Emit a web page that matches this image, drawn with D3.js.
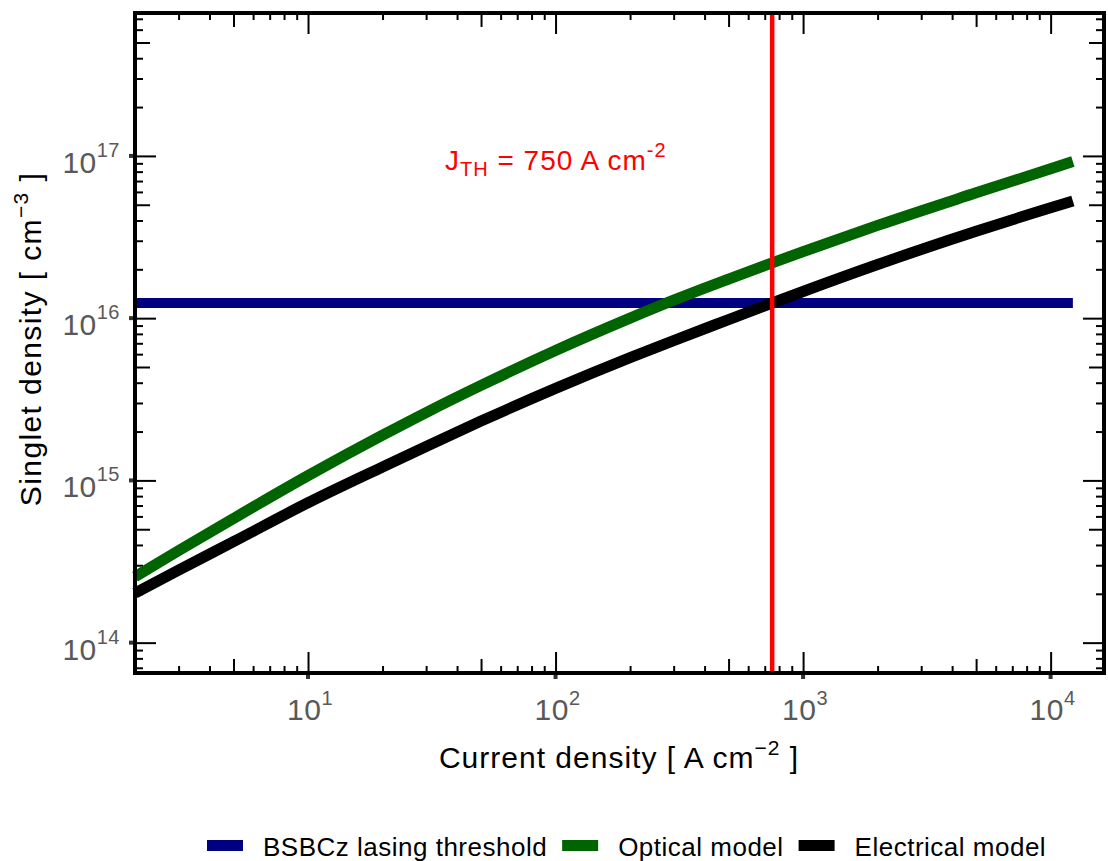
<!DOCTYPE html>
<html>
<head>
  <meta charset="utf-8">
  <style>
    body { margin: 0; background: #fff; }
    svg { font-family: "Liberation Sans", Arial, sans-serif; }
    .tick-label { fill: #595959; font-size: 30px; letter-spacing: 0.5px; }
    .title { fill: #000; font-size: 30px; letter-spacing: 1px; }
    .legend-text { fill: #000; font-size: 26px; letter-spacing: 0.5px; }
  </style>
  <script src="https://d3js.org/d3.v7.min.js"></script>
</head>
<body>
  <svg id="svg" width="1108" height="861"></svg>
  <script>
    // data
    const currentDensity = [2, 3, 5, 10, 20, 30, 50, 100, 200, 300, 500, 750, 1000, 2000, 5000, 10000, 12300];
    const opticalModel = [2.55e14, 3.69e14, 5.83e14, 1.07e15, 1.90e15, 2.62e15, 3.85e15, 6.32e15, 1.00e16, 1.29e16, 1.74e16, 2.19e16, 2.57e16, 3.73e16, 5.92e16, 8.34e16, 9.23e16];
    const electricalModel = [2.02e14, 2.80e14, 4.19e14, 7.28e14, 1.21e15, 1.62e15, 2.32e15, 3.69e15, 5.71e15, 7.28e15, 9.80e15, 1.24e16, 1.46e16, 2.14e16, 3.43e16, 4.79e16, 5.27e16];
    const lasingThreshold = 1.24e16;
    const thresholdCurrent = 750;
    const xMajorTicks = [1e1, 1e2, 1e3, 1e4];
    const yMajorTicks = [1e14, 1e15, 1e16, 1e17];
    const xExponents = ["1", "2", "3", "4"];
    const yExponents = ["14", "15", "16", "17"];
    const legendLabels = ["BSBCz lasing threshold", "Optical model", "Electrical model"];
    const legendColors = ["#000080", "#006400", "#000000"];

    const plotLeft = 135, plotRight = 1104, plotTop = 13, plotBottom = 673;
    const svg = d3.select("#svg");

    const x = d3.scaleLog().domain([2, 16430]).range([plotLeft, plotRight]);
    const y = d3.scaleLog().domain([6.5e13, 7.6e17]).range([plotBottom, plotTop]);

    // minor / medium tick sets
    function tickSets(scale, majors) {
      let all = scale.ticks().filter(v => !majors.some(m => Math.abs(m - v) / m < 1e-6));
      let lead = v => Math.round(v / Math.pow(10, Math.floor(Math.log10(v) + 1e-9)));
      return {
        medium: all.filter(v => lead(v) === 5),
        minor: all.filter(v => lead(v) !== 5)
      };
    }
    const xs = tickSets(x, xMajorTicks);
    const ys = tickSets(y, yMajorTicks);

    function drawTicks(axisFn, scale, values, len, transform) {
      let g = svg.append("g").attr("transform", transform)
        .call(axisFn(scale).tickValues(values).tickSize(-len).tickFormat(""));
      g.select(".domain").remove();
      g.selectAll(".tick line").attr("stroke", "#000").attr("stroke-width", 2);
      return g;
    }
    [[xs.minor, 7], [xs.medium, 14], [xMajorTicks, 21]].forEach(([v, l]) => {
      drawTicks(d3.axisBottom, x, v, l, `translate(0,${plotBottom})`);
      drawTicks(d3.axisTop, x, v, l, `translate(0,${plotTop})`);
    });
    [[ys.minor, 8], [ys.medium, 15], [yMajorTicks, 21]].forEach(([v, l]) => {
      drawTicks(d3.axisLeft, y, v, l, `translate(${plotLeft},0)`);
      drawTicks(d3.axisRight, y, v, l, `translate(${plotRight},0)`);
    });

    // small outer marks at the major ticks
    svg.append("g").selectAll("rect").data(xMajorTicks).join("rect")
      .attr("x", d => x(d) - 2).attr("y", plotBottom + 1).attr("width", 4).attr("height", 5).attr("fill", "#333");
    svg.append("g").selectAll("rect").data(yMajorTicks).join("rect")
      .attr("x", plotLeft - 6).attr("y", d => y(d) - 2).attr("width", 5).attr("height", 4).attr("fill", "#333");

    // series
    const line = d3.line().x(d => x(d[0])).y(d => y(d[1])).curve(d3.curveMonotoneX);
    const xEnd = currentDensity[currentDensity.length - 1];
    svg.append("path")
      .attr("d", line([[currentDensity[0], lasingThreshold], [xEnd, lasingThreshold]]))
      .attr("fill", "none").attr("stroke", legendColors[0]).attr("stroke-width", 10);
    svg.append("path")
      .attr("d", line(currentDensity.map((c, i) => [c, opticalModel[i]])))
      .attr("fill", "none").attr("stroke", legendColors[1]).attr("stroke-width", 11);
    svg.append("path")
      .attr("d", line(currentDensity.map((c, i) => [c, electricalModel[i]])))
      .attr("fill", "none").attr("stroke", legendColors[2]).attr("stroke-width", 11);

    svg.append("line")
      .attr("x1", x(thresholdCurrent)).attr("x2", x(thresholdCurrent))
      .attr("y1", plotTop).attr("y2", plotBottom)
      .attr("stroke", "#ff0000").attr("stroke-width", 4.5);

    // frame
    svg.append("rect").attr("x", plotLeft).attr("y", plotTop)
      .attr("width", plotRight - plotLeft).attr("height", plotBottom - plotTop)
      .attr("fill", "none").attr("stroke", "#000").attr("stroke-width", 4);

    // tick labels
    let xl = svg.append("g").selectAll("text").data(xMajorTicks).join("text")
      .attr("class", "tick-label").attr("text-anchor", "middle")
      .attr("x", d => x(d) + 2).attr("y", plotBottom + 47);
    xl.append("tspan").text("10");
    xl.append("tspan").attr("dy", -15).style("font-size", "20px").text((d, i) => xExponents[i]);

    let yl = svg.append("g").selectAll("text").data(yMajorTicks).join("text")
      .attr("class", "tick-label").attr("text-anchor", "end")
      .attr("x", plotLeft - 15).attr("y", d => y(d) + 17);
    yl.append("tspan").text("10");
    yl.append("tspan").attr("dy", -16).style("font-size", "20px").text((d, i) => yExponents[i]);

    // axis titles
    let xt = svg.append("text").attr("class", "title").attr("text-anchor", "middle")
      .attr("x", 619).attr("y", 768);
    xt.append("tspan").text("Current density [ A cm");
    xt.append("tspan").attr("dy", -13).style("font-size", "21px").text("\u22122");
    xt.append("tspan").attr("dy", 13).text(" ]");

    let yt = svg.append("text").attr("class", "title").attr("text-anchor", "middle")
      .style("letter-spacing", "1.4px")
      .attr("transform", "translate(41,339) rotate(-90)");
    yt.append("tspan").text("Singlet density [ cm");
    yt.append("tspan").attr("dy", -13).style("font-size", "21px").text("\u22123");
    yt.append("tspan").attr("dy", 13).text(" ]");

    // annotation
    let ann = svg.append("text").attr("fill", "#ff0000")
      .style("font-size", "28px").style("letter-spacing", "1px")
      .attr("x", 445).attr("y", 170);
    ann.append("tspan").text("J");
    ann.append("tspan").attr("dy", 6).style("font-size", "20px").text("TH");
    ann.append("tspan").attr("dy", -6).text(" = 750 A cm");
    ann.append("tspan").attr("dy", -13).style("font-size", "20px").text("-2");

    // legend
    let lg = svg.append("g").attr("transform", "translate(207,846)");
    let cursor = 0;
    legendLabels.forEach((lab, i) => {
      lg.append("rect").attr("x", cursor).attr("y", -6).attr("width", 36).attr("height", 11)
        .attr("fill", legendColors[i]);
      let t = lg.append("text").attr("class", "legend-text").attr("x", cursor + 56).attr("y", 10).text(lab);
      cursor += 56 + t.node().getComputedTextLength() + 15;
    });
  </script>
</body>
</html>
